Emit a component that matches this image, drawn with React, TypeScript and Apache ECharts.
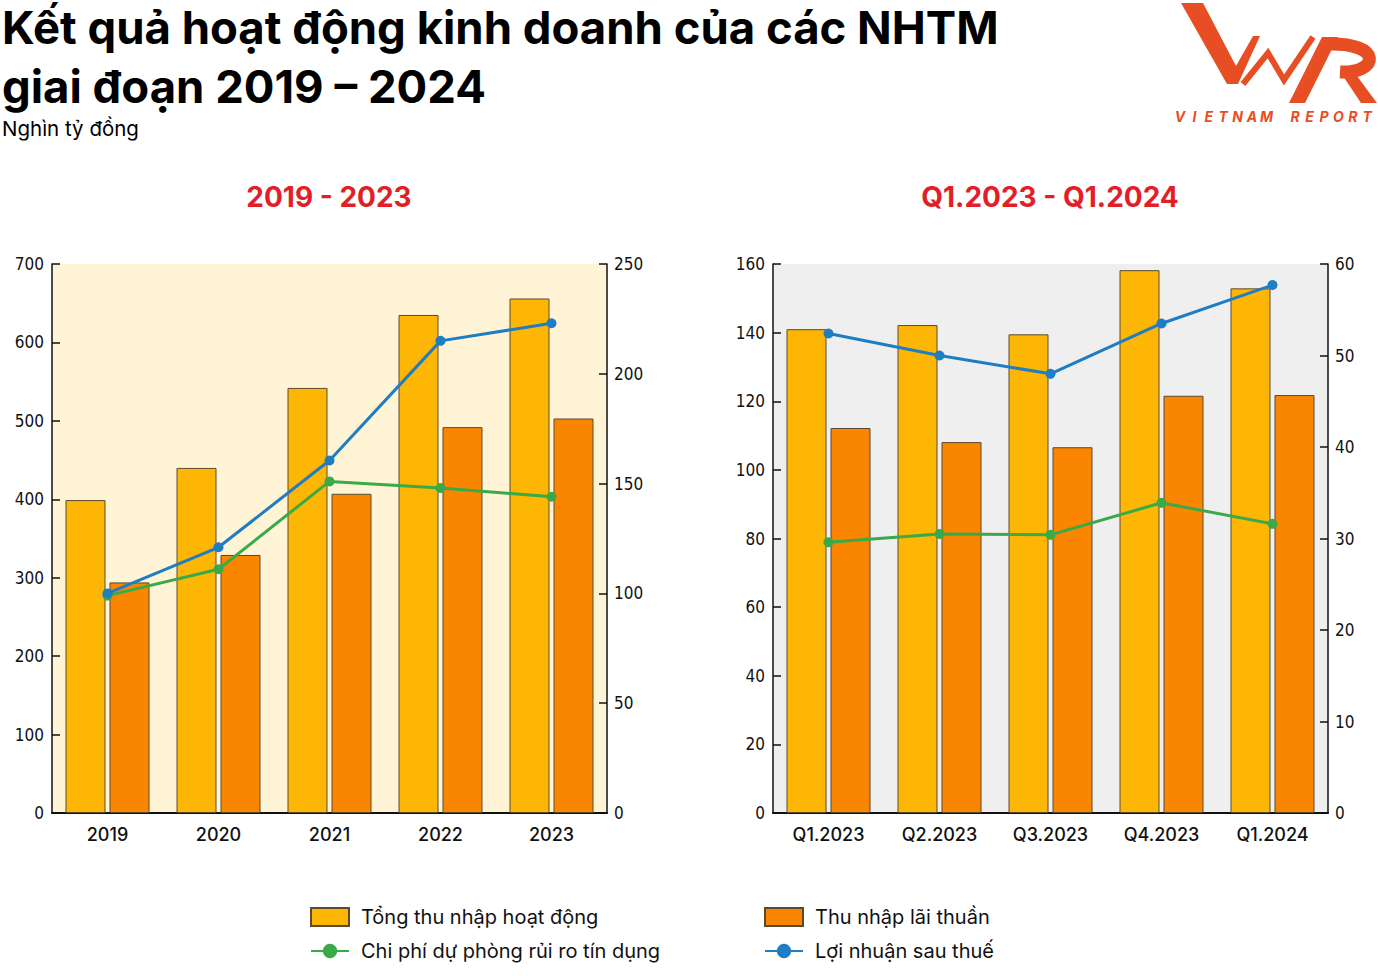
import React, { useEffect, useRef } from "react";
import * as echarts from "echarts";

const years = ["2019", "2020", "2021", "2022", "2023"];
const tongThuNhapYear = [399, 440, 542, 635, 656];
const thuNhapLaiYear = [294, 329, 407, 492, 503];
const chiPhiDuPhongYear = [99, 111, 151, 148, 144];
const loiNhuanYear = [100, 121, 160.5, 215, 223];

const quarters = ["Q1.2023", "Q2.2023", "Q3.2023", "Q4.2023", "Q1.2024"];
const tongThuNhapQ = [141, 142.2, 139.5, 158.2, 152.9];
const thuNhapLaiQ = [112.2, 108.1, 106.6, 121.6, 121.8];
const chiPhiDuPhongQ = [29.6, 30.5, 30.4, 33.9, 31.6];
const loiNhuanQ = [52.4, 50.0, 48.0, 53.5, 57.7];

const S1 = "Tổng thu nhập hoạt động";
const S2 = "Thu nhập lãi thuần";
const S3 = "Chi phí dự phòng rủi ro tín dụng";
const S4 = "Lợi nhuận sau thuế";

const YELLOW = "#FDB604";
const ORANGE = "#FA8500";
const GREEN = "#3AAA48";
const BLUE = "#1F7DC3";
const BAR_BORDER = "#5a4a30";
const LOGO = "#E84E24";
const COND = "'DejaVu Sans Condensed', 'Liberation Sans Narrow', sans-serif";
const SANS = "Inter, 'Noto Sans', sans-serif";
const LOGO_TEXT = "VIETNAM REPORT";

export default function App() {
  const ref = useRef<HTMLDivElement>(null);
  useEffect(() => {
    document.body.style.margin = "0";
    const chart = echarts.init(ref.current!, null, { renderer: "svg" });

    const valAxis = (gridIndex: number, max: number, interval: number, position: string) => ({
      type: "value",
      gridIndex,
      min: 0,
      max,
      interval,
      position,
      axisLine: { show: true, lineStyle: { color: "#111", width: 1.5 } },
      axisTick: { show: true, inside: true, length: 8, lineStyle: { color: "#111", width: 1.5 } },
      axisLabel: {
        color: "#111",
        fontSize: 17,
        fontFamily: COND,
        margin: position === "left" ? 8 : 7,
      },
      splitLine: { show: false },
    });
    const catAxis = (gridIndex: number, data: string[]) => ({
      type: "category",
      gridIndex,
      data,
      axisLine: { show: true, lineStyle: { color: "#111", width: 2 } },
      axisTick: { show: false },
      axisLabel: { color: "#111", fontSize: 18, fontFamily: SANS, fontWeight: 500, margin: 12 },
    });
    const bar = (name: string, data: number[], color: string, idx: number) => ({
      name,
      type: "bar",
      xAxisIndex: idx,
      yAxisIndex: idx * 2,
      data,
      barWidth: 40,
      barGap: "10%",
      itemStyle: { color, borderColor: BAR_BORDER, borderWidth: 1 },
    });
    const line = (name: string, data: number[], color: string, idx: number) => ({
      name,
      type: "line",
      xAxisIndex: idx,
      yAxisIndex: idx * 2 + 1,
      data,
      symbol: "circle",
      symbolSize: 10,
      lineStyle: { color, width: 3 },
      itemStyle: { color },
    });

    const legendCommon = {
      orient: "vertical",
      top: 902,
      itemWidth: 38,
      itemHeight: 18,
      itemGap: 14,
      textStyle: { fontSize: 20, fontFamily: SANS, color: "#111", padding: [0, 0, 0, 7] },
    };

    const logoLetters = LOGO_TEXT.split("").map((ch, i) => ({
      type: "text",
      x: 1180 + i * 14.4,
      y: 116,
      style: {
        text: ch,
        fill: LOGO,
        fontSize: 14,
        fontWeight: 700,
        fontStyle: "italic",
        fontFamily: SANS,
        textAlign: "center",
        textVerticalAlign: "middle",
      },
    }));

    const titleText = (text: string, y: number, size: number, weight: number) => ({
      type: "text",
      x: 2,
      y,
      style: {
        text,
        fill: "#000",
        fontSize: size,
        fontWeight: weight,
        fontFamily: SANS,
        textVerticalAlign: "middle",
      },
    });

    chart.setOption({
      animation: false,
      backgroundColor: "#ffffff",
      grid: [
        { left: 52, width: 555, top: 264, height: 549, show: true, backgroundColor: "#FFF5D6", borderWidth: 0 },
        { left: 773, width: 555, top: 264, height: 549, show: true, backgroundColor: "#EFEFEF", borderWidth: 0 },
      ],
      xAxis: [catAxis(0, years), catAxis(1, quarters)],
      yAxis: [
        valAxis(0, 700, 100, "left"),
        valAxis(0, 250, 50, "right"),
        valAxis(1, 160, 20, "left"),
        valAxis(1, 60, 10, "right"),
      ],
      legend: [
        { ...legendCommon, left: 305, data: [{ name: S1, icon: "rect" }, S3] },
        { ...legendCommon, left: 759, data: [{ name: S2, icon: "rect" }, S4] },
      ],
      series: [
        bar(S1, tongThuNhapYear, YELLOW, 0),
        bar(S2, thuNhapLaiYear, ORANGE, 0),
        line(S3, chiPhiDuPhongYear, GREEN, 0),
        line(S4, loiNhuanYear, BLUE, 0),
        bar(S1, tongThuNhapQ, YELLOW, 1),
        bar(S2, thuNhapLaiQ, ORANGE, 1),
        line(S3, chiPhiDuPhongQ, GREEN, 1),
        line(S4, loiNhuanQ, BLUE, 1),
      ],
      graphic: [
        titleText("Kết quả hoạt động kinh doanh của các NHTM", 27, 45.5, 700),
        titleText("giai đoạn 2019 – 2024", 86, 45.5, 700),
        titleText("Nghìn tỷ đồng", 128, 20.5, 400),
        {
          type: "text",
          x: 329,
          y: 197,
          style: {
            text: "2019 - 2023",
            fill: "#E31E26",
            fontSize: 28,
            fontWeight: 700,
            fontFamily: SANS,
            textAlign: "center",
            textVerticalAlign: "middle",
          },
        },
        {
          type: "text",
          x: 1050,
          y: 197,
          style: {
            text: "Q1.2023 - Q1.2024",
            fill: "#E31E26",
            fontSize: 28,
            fontWeight: 700,
            fontFamily: SANS,
            textAlign: "center",
            textVerticalAlign: "middle",
          },
        },
        // logo
        {
          type: "polygon",
          shape: { points: [[1181, 3], [1203, 3], [1236, 66], [1253, 36], [1260, 36], [1238, 84], [1227, 84]] },
          style: { fill: LOGO },
        },
        {
          type: "polyline",
          shape: { points: [[1243, 84], [1268, 53], [1284, 80], [1313, 37]] },
          style: { stroke: LOGO, lineWidth: 6, fill: "none", lineJoin: "miter" },
        },
        {
          type: "polygon",
          shape: { points: [[1289, 103], [1305, 103], [1338, 37], [1322, 37]] },
          style: { fill: LOGO },
        },
        {
          type: "bezierCurve",
          shape: { x1: 1326, y1: 44, x2: 1340, y2: 72, cpx1: 1385, cpy1: 42, cpx2: 1378, cpy2: 74 },
          style: { stroke: LOGO, lineWidth: 13, fill: "none" },
        },
        {
          type: "polygon",
          shape: { points: [[1343, 76], [1357, 76], [1377, 103], [1361, 103]] },
          style: { fill: LOGO },
        },
        ...logoLetters,
      ],
    });
    return () => chart.dispose();
  }, []);
  return <div ref={ref} style={{ width: 1378, height: 976 }} />;
}
